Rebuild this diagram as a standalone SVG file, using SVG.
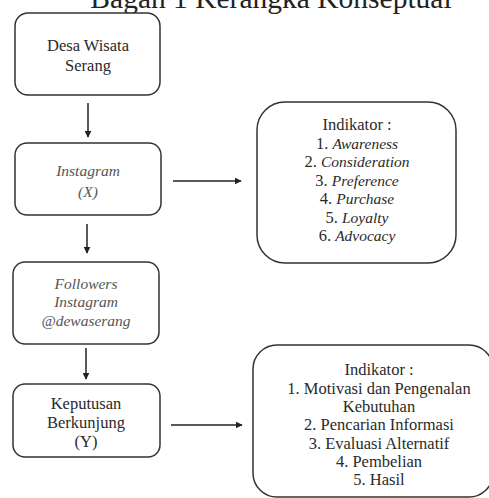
<svg xmlns="http://www.w3.org/2000/svg" width="489" height="498" viewBox="0 0 489 498">
<style>
.box{fill:#fff;stroke:#333;stroke-width:1.5}
.t{font-family:"Liberation Serif","Times New Roman",serif;font-size:16.5px;fill:#2a2a2a;text-anchor:middle}
.i{font-style:italic;fill:#555;font-size:15.5px}
.e{font-style:italic;font-size:15.5px}
.title{font-family:"Liberation Serif","Times New Roman",serif;font-size:29.5px;fill:#222;text-anchor:middle}
.c{stroke:#222;stroke-width:1.5;fill:none}
</style>
<defs>
<marker id="ah" viewBox="0 0 10 10" refX="9" refY="5" markerWidth="7" markerHeight="7" markerUnits="userSpaceOnUse" orient="auto">
<path d="M0,0 L10,5 L0,10 z" fill="#222"/>
</marker>
</defs>
<rect width="489" height="498" fill="#fff"/>
<text class="title" x="271" y="8">Bagan 1 Kerangka Konseptual</text>
<g id="desa">
<rect class="box" x="15" y="13" width="145" height="82" rx="13"/>
<text class="t" x="88" y="51">Desa Wisata</text>
<text class="t" x="88" y="71">Serang</text>
</g>
<g id="instagram">
<rect class="box" x="15" y="143" width="146" height="72" rx="12"/>
<text class="t i" x="88" y="176">Instagram</text>
<text class="t i" x="88" y="197">(X)</text>
</g>
<g id="followers">
<rect class="box" x="13" y="262" width="146" height="82" rx="12"/>
<text class="t i" x="86" y="289">Followers</text>
<text class="t i" x="86" y="307">Instagram</text>
<text class="t i" x="86" y="326">@dewaserang</text>
</g>
<g id="keputusan">
<rect class="box" x="13" y="384" width="147" height="73" rx="12"/>
<text class="t" x="86" y="409">Keputusan</text>
<text class="t" x="86" y="428">Berkunjung</text>
<text class="t" x="86" y="447">(Y)</text>
</g>
<g id="indikator-x">
<rect class="box" x="257" y="102" width="199" height="161" rx="28"/>
<text class="t" x="357" y="130">Indikator :</text>
<text class="t" x="357" y="148.5">1. <tspan class="e">Awareness</tspan></text>
<text class="t" x="357" y="167">2. <tspan class="e">Consideration</tspan></text>
<text class="t" x="357" y="185.5">3. <tspan class="e">Preference</tspan></text>
<text class="t" x="357" y="204">4. <tspan class="e">Purchase</tspan></text>
<text class="t" x="357" y="222.5">5. <tspan class="e">Loyalty</tspan></text>
<text class="t" x="357" y="241">6. <tspan class="e">Advocacy</tspan></text>
</g>
<g id="indikator-y">
<rect class="box" x="253" y="345" width="240" height="152" rx="24"/>
<text class="t" x="379" y="375">Indikator :</text>
<text class="t" x="379" y="394">1. Motivasi dan Pengenalan</text>
<text class="t" x="379" y="412">Kebutuhan</text>
<text class="t" x="379" y="430">2. Pencarian Informasi</text>
<text class="t" x="379" y="448.5">3. Evaluasi Alternatif</text>
<text class="t" x="379" y="467">4. Pembelian</text>
<text class="t" x="379" y="485">5. Hasil</text>
</g>
<g id="connectors">
<line class="c" x1="88" y1="103" x2="88" y2="137" marker-end="url(#ah)"/>
<line class="c" x1="87" y1="224" x2="87" y2="253" marker-end="url(#ah)"/>
<line class="c" x1="86" y1="348" x2="86" y2="379" marker-end="url(#ah)"/>
<line class="c" x1="173" y1="181" x2="241" y2="181" marker-end="url(#ah)"/>
<line class="c" x1="171" y1="425" x2="242" y2="425" marker-end="url(#ah)"/>
</g>
</svg>
